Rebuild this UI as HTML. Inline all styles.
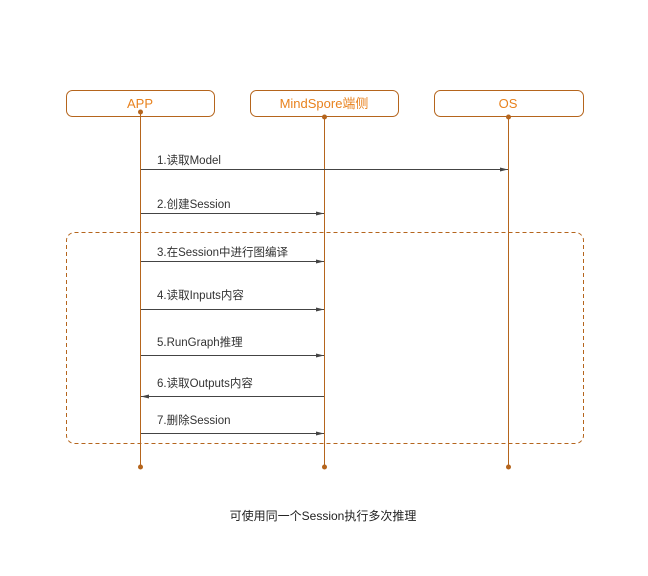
<!DOCTYPE html>
<html><head><meta charset="utf-8"><style>
html,body{margin:0;padding:0;background:#fff;}
svg{display:block;}
text{font-family:"Liberation Sans","Noto Sans CJK SC",sans-serif;}
</style></head><body>
<svg width="648" height="576" viewBox="0 0 648 576" xmlns="http://www.w3.org/2000/svg">
<defs>
<marker id="a" markerWidth="8" markerHeight="6" refX="8" refY="3" orient="auto" markerUnits="userSpaceOnUse">
<path d="M0,1 L8,3 L0,5 Z" fill="#444"/></marker>
</defs>
<g fill="none" stroke="#b5651d" stroke-width="1">
<rect x="66.5" y="90.5" width="148" height="26" rx="6"/>
<rect x="250.5" y="90.5" width="148" height="26" rx="6"/>
<rect x="434.5" y="90.5" width="149" height="26" rx="6"/>
<rect x="66.5" y="232.5" width="517" height="211" rx="8" stroke-dasharray="4,3"/>
<line x1="140.5" y1="112" x2="140.5" y2="467"/>
<line x1="324.5" y1="117" x2="324.5" y2="467"/>
<line x1="508.5" y1="117" x2="508.5" y2="467"/>
</g>
<g fill="#b5651d">
<circle cx="140.5" cy="112" r="2.5"/><circle cx="324.5" cy="117" r="2.5"/><circle cx="508.5" cy="117" r="2.5"/>
<circle cx="140.5" cy="467" r="2.5"/><circle cx="324.5" cy="467" r="2.5"/><circle cx="508.5" cy="467" r="2.5"/>
</g>
<g font-size="13" fill="#e8821e" text-anchor="middle">
<text x="140" y="108">APP</text>
<text x="324" y="108">MindSpore端侧</text>
<text x="508" y="108">OS</text>
</g>
<g stroke="#444" stroke-width="1" marker-end="url(#a)">
<line x1="141" y1="169.5" x2="508" y2="169.5"/>
<line x1="141" y1="213.5" x2="324" y2="213.5"/>
<line x1="141" y1="261.5" x2="324" y2="261.5"/>
<line x1="141" y1="309.5" x2="324" y2="309.5"/>
<line x1="141" y1="355.5" x2="324" y2="355.5"/>
<line x1="324" y1="396.5" x2="141" y2="396.5"/>
<line x1="141" y1="433.5" x2="324" y2="433.5"/>
</g>
<g font-size="11.5" fill="#333">
<text x="157" y="164">1.读取Model</text>
<text x="157" y="208">2.创建Session</text>
<text x="157" y="256">3.在Session中进行图编译</text>
<text x="157" y="299">4.读取Inputs内容</text>
<text x="157" y="346">5.RunGraph推理</text>
<text x="157" y="387">6.读取Outputs内容</text>
<text x="157" y="424">7.删除Session</text>
</g>
<text x="323" y="520" font-size="12" fill="#222" text-anchor="middle">可使用同一个Session执行多次推理</text>
</svg>
</body></html>
